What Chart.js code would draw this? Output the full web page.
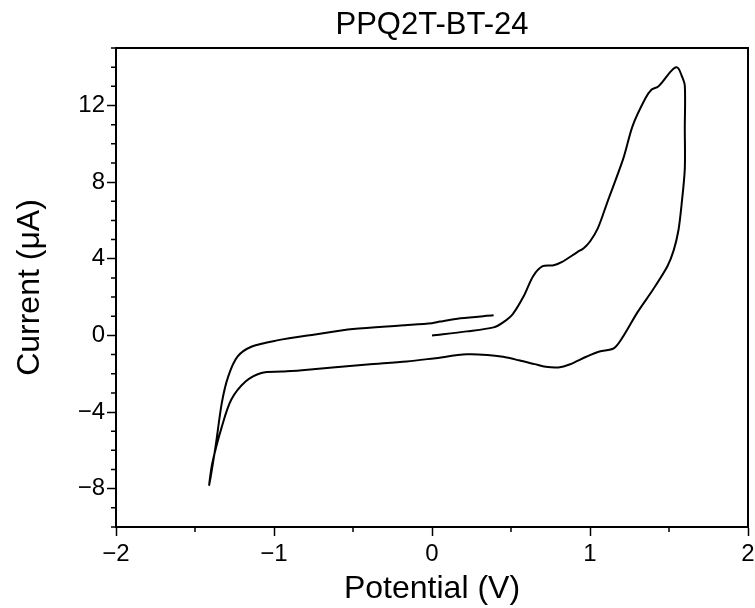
<!DOCTYPE html>
<html>
<head>
<meta charset="utf-8">
<script src="https://cdn.jsdelivr.net/npm/chart.js@4/dist/chart.umd.min.js"></script>
<style>
  html, body { margin: 0; padding: 0; background: #fff; }
  #wrap { width: 755px; height: 608px; }
</style>
</head>
<body>
<div id="wrap"><canvas id="cv"></canvas></div>
<script>
// cyclic voltammogram
var chartTitle = 'PPQ2T-BT-24';
// first sweep: 0 V up to the switching potential
var sweepUpX = [0.0, 0.22, 0.39, 0.45, 0.51, 0.58, 0.64, 0.70, 0.77, 0.82, 0.92, 0.96, 1.0, 1.05, 1.11, 1.21, 1.27, 1.35, 1.39, 1.43, 1.46, 1.51, 1.54, 1.56, 1.58, 1.60];
var sweepUpY = [0.0, 0.21, 0.42, 0.68, 1.10, 2.04, 3.09, 3.61, 3.66, 3.82, 4.35, 4.55, 4.90, 5.60, 6.96, 9.21, 10.94, 12.36, 12.83, 12.98, 13.25, 13.77, 13.98, 13.93, 13.56, 13.04];
// reverse sweep down to the negative limit
var sweepDownX = [1.60, 1.60, 1.58, 1.56, 1.53, 1.49, 1.40, 1.30, 1.21, 1.15, 1.06, 0.98, 0.87, 0.80, 0.72, 0.65, 0.55, 0.45, 0.35, 0.22, 0.01, -0.16, -0.41, -0.63, -0.84, -0.95, -1.08, -1.18, -1.27, -1.33, -1.39, -1.41];
var sweepDownY = [10.8, 8.69, 6.86, 5.50, 4.45, 3.61, 2.41, 1.20, -0.05, -0.68, -0.84, -1.10, -1.52, -1.67, -1.64, -1.50, -1.30, -1.12, -1.02, -0.99, -1.20, -1.36, -1.52, -1.68, -1.83, -1.89, -1.96, -2.41, -3.35, -4.76, -6.65, -7.80];
// last sweep back up, stops near 0.4 V
var sweepBackX = [-1.37, -1.33, -1.29, -1.23, -1.14, -0.98, -0.74, -0.50, -0.20, 0.0, 0.05, 0.18, 0.39];
var sweepBackY = [-5.81, -3.51, -2.15, -1.10, -0.58, -0.26, 0.05, 0.33, 0.52, 0.64, 0.72, 0.89, 1.05];

var xMajor = [-2, -1, 0, 1, 2];
var xMinor = [-1.5, -0.5, 0.5, 1.5];
var yMajor = [-8, -4, 0, 4, 8, 12];
var yMinor = [-10, -9, -7, -6, -5, -3, -2, -1, 1, 2, 3, 5, 6, 7, 9, 10, 11, 13, 14, 15];

var pts = [];
function addPts(xs, ys) {
	for (var i = 0; i < xs.length; i++) {
		pts.push({x: xs[i], y: ys[i]});
	}
}
addPts(sweepUpX, sweepUpY);
addPts(sweepDownX, sweepDownY);
addPts(sweepBackX, sweepBackY);

var FONT = "'Liberation Sans', Arial, Helvetica, sans-serif";

function minusSign(v) {
	return String(v).replace('-', '\u2212');
}

// box round the plot, short minor ticks, title centred on the plot
var framePlugin = {
	id: 'frame',
	afterDraw: function(chart) {
		var ctx = chart.ctx;
		var a = chart.chartArea;
		var sx = chart.scales.x, sy = chart.scales.y;
		ctx.save();
		ctx.strokeStyle = '#000';
		ctx.lineWidth = 1.5;
		ctx.beginPath();
		xMinor.forEach(function(v) {
			var p = sx.getPixelForValue(v);
			ctx.moveTo(p, a.bottom);
			ctx.lineTo(p, a.bottom + 5);
		});
		yMinor.forEach(function(v) {
			var p = sy.getPixelForValue(v);
			ctx.moveTo(a.left, p);
			ctx.lineTo(a.left - 5, p);
		});
		ctx.stroke();
		ctx.lineWidth = 2;
		ctx.strokeRect(a.left, a.top, a.right - a.left, a.bottom - a.top);

		ctx.fillStyle = '#000';
		ctx.font = '31px ' + FONT;
		ctx.textAlign = 'center';
		ctx.textBaseline = 'alphabetic';
		ctx.fillText(chartTitle, (a.left + a.right) / 2, 34);
		ctx.restore();
	}
};

var chart = new Chart(document.getElementById('cv'), {
	type: 'scatter',
	data: {
		datasets: [{
			data: pts,
			showLine: true,
			borderColor: '#000',
			borderWidth: 2,
			pointRadius: 0,
			tension: 0.3,
			fill: false
		}]
	},
	options: {
		responsive: true,
		maintainAspectRatio: false,
		animation: false,
		layout: { padding: { left: 0, right: 7, top: 48, bottom: 0 } },
		plugins: {
			legend: { display: false },
			tooltip: { enabled: false },
			title: { display: false }
		},
		scales: {
			x: {
				type: 'linear',
				min: -2,
				max: 2,
				afterBuildTicks: function(s) {
					s.ticks = xMajor.map(function(v) { return {value: v}; });
				},
				afterFit: function(s) {
					s.height = 81;
					s.paddingLeft = 0;
					s.paddingRight = 0;
				},
				grid: { drawOnChartArea: false, tickLength: 9, tickColor: '#000', tickWidth: 1.5 },
				border: { display: true, color: '#000', width: 2 },
				ticks: {
					color: '#000',
					padding: 4,
					font: { family: FONT, size: 24 },
					maxRotation: 0,
					callback: function(v) { return minusSign(v); }
				},
				title: {
					display: true,
					text: 'Potential (V)',
					color: '#000',
					font: { family: FONT, size: 32 },
					padding: { top: 0, bottom: 0 }
				}
			},
			y: {
				type: 'linear',
				min: -10,
				max: 15,
				afterBuildTicks: function(s) {
					s.ticks = yMajor.map(function(v) { return {value: v}; });
				},
				afterFit: function(s) {
					s.width = 116;
					s.paddingTop = 0;
					s.paddingBottom = 0;
				},
				grid: { drawOnChartArea: false, tickLength: 9, tickColor: '#000', tickWidth: 1.5 },
				border: { display: true, color: '#000', width: 2 },
				ticks: {
					color: '#000',
					padding: 2,
					font: { family: FONT, size: 24 },
					callback: function(v) { return minusSign(v); }
				},
				title: {
					display: true,
					text: 'Current (\u03bcA)',
					color: '#000',
					font: { family: FONT, size: 32 },
					padding: { top: 11, bottom: 0 }
				}
			}
		}
	},
	plugins: [framePlugin]
});
</script>
</body>
</html>
